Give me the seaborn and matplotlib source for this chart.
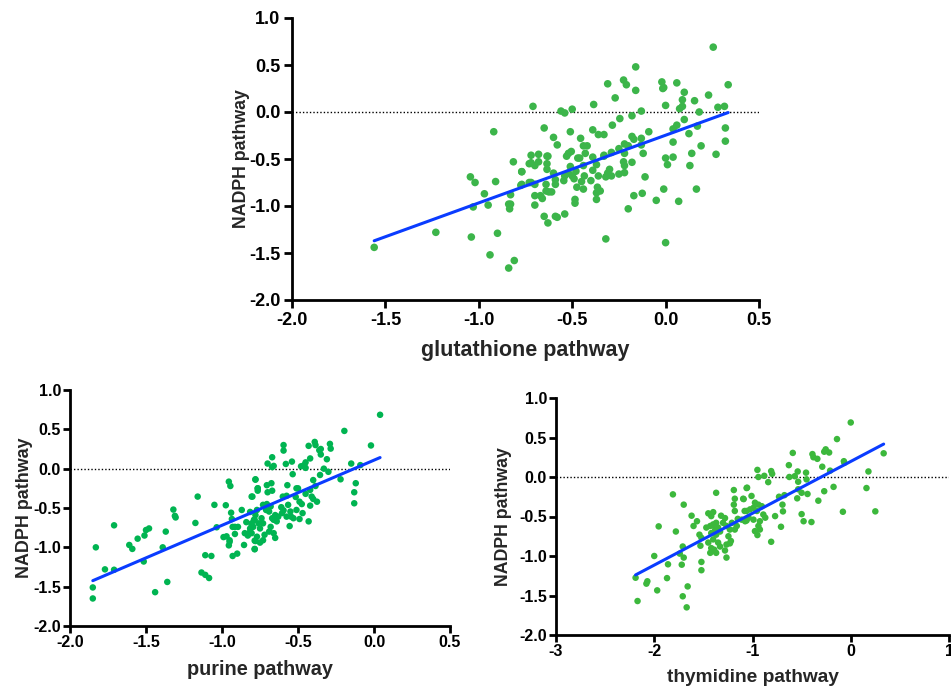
import numpy as np
import pandas as pd
import matplotlib
matplotlib.use("Agg")
import matplotlib.pyplot as plt
import seaborn as sns

# ---------------- data ----------------
# Panel A: glutathione pathway vs NADPH pathway
glut_x = [-0.71, -0.56, -0.54, -0.50, -0.65, -0.60, -0.58, -0.51, -0.455, -0.44, -0.42, -0.385, -0.39, -0.36,
          -0.33, -0.31, -0.27, -0.225, -0.21, -0.16, -0.16, -0.285, -0.245, -0.18, -0.13, -0.09, -0.18, -0.17,
          -0.13, -0.22, -0.20, -0.13, -0.25, -0.29, -0.22, -0.12, -0.02, -0.015, -0.01, 0.06, 0.10, 0.09, 0.09,
          0.075, 0.00, 0.155, 0.23, 0.255, 0.335, 0.28, 0.315, 0.18, 0.10, 0.06, 0.04, 0.17, 0.125, 0.32, 0.32,
          0.04, 0.19, 0.14, 0.27, 0.00, 0.04, -0.43, -0.39, -0.33, -0.72, -0.68, -0.63, -0.53, -0.52, -0.505,
          -0.46,
          -1.56, -1.23, -1.04, -0.94, -0.90, -0.84, -0.81, -1.03, -1.045, -1.02, -0.91, -0.815, -0.77, -0.775,
          -0.83, -0.84, -0.83, -0.835, -0.73, -0.73, -0.92, -0.97, -0.95,
          -0.32, 0.00, -0.20, -0.17, -0.125, -0.05, -0.01, 0.07, 0.165, -0.11, 0.13, 0.01, -0.18, -0.225, -0.22,
          -0.22, -0.25, -0.30, -0.31, -0.29, -0.32, -0.33, -0.37, -0.39, -0.36, -0.40, -0.365, -0.35, -0.37,
          -0.37, -0.44, -0.435, -0.45, -0.44, -0.47, -0.48, -0.475, -0.49, -0.50, -0.485, -0.485, -0.51, -0.52,
          -0.54, -0.545, -0.54, -0.58, -0.59, -0.63, -0.65, -0.59, -0.59, -0.60, -0.61, -0.625, -0.64, -0.64,
          -0.635, -0.635, -0.635, -0.68, -0.70, -0.72, -0.70, -0.70, -0.70, -0.66, -0.67, -0.72, -0.77, -0.77]
glut_y = [0.06, 0.01, -0.01, 0.03, -0.17, -0.27, -0.35, -0.21, -0.28, -0.36, -0.36, 0.08, -0.19, -0.24,
          -0.24, 0.30, 0.15, 0.34, 0.29, 0.48, 0.23, -0.14, -0.07, -0.04, 0.01, -0.21, -0.26, -0.29,
          -0.28, -0.34, -0.36, -0.35, -0.39, -0.43, -0.44, -0.44, 0.32, 0.25, 0.26, 0.31, 0.21, 0.13, 0.06,
          0.035, 0.07, 0.12, 0.18, 0.69, 0.29, 0.05, 0.06, 0.00, -0.08, -0.14, -0.18, -0.15, -0.23, -0.17, -0.31,
          -0.32, -0.36, -0.44, -0.45, -0.49, -0.48, -0.44, -0.48, -0.47, -0.46, -0.45, -0.47, -0.47, -0.44, -0.42,
          -0.49,
          -1.44, -1.28, -1.33, -1.52, -1.29, -1.66, -1.58, -1.01, -0.69, -0.75, -0.74, -0.53, -0.635, -0.78,
          -0.88, -0.98, -0.98, -1.03, -0.55, -0.75, -0.21, -0.87, -0.99,
          -1.35, -1.39, -1.03, -0.89, -0.865, -0.94, -0.82, -0.95, -0.82, -0.69, -0.57, -0.56, -0.535, -0.53, -0.57,
          -0.645, -0.66, -0.61, -0.65, -0.68, -0.69, -0.46, -0.56, -0.62, -0.68, -0.73, -0.80, -0.84, -0.86,
          -0.93, -0.57, -0.68, -0.74, -0.82, -0.49, -0.63, -0.80, -0.71, -0.68, -0.93, -0.97, -0.58, -0.65,
          -0.68, -0.73, -1.085, -1.12, -1.11, -1.18, -1.11, -0.77, -0.72, -0.65, -0.85, -0.85, -0.84, -0.77,
          -0.55, -0.61, -0.47, -0.53, -0.57, -0.54, -0.77, -0.89, -0.99, -0.92, -0.89, -0.75, -0.77, -0.635]

# Panel B: purine pathway vs NADPH pathway
pur_x = [-1.85, -1.85, -1.83, -1.77, -1.71, -1.71, -1.61, -1.59, -1.555, -1.51, -1.50, -1.48, -1.515, -1.44,
         -1.39, -1.37, -1.36, -1.32, -1.31, -1.305, -1.16, -1.175, -1.135, -1.11, -1.085, -1.11, -1.07, -1.05,
         -1.035, -0.975, -0.955, -0.945, -0.94, -0.93, -0.915, -0.935, -0.99, -0.97, -0.95, -0.955, -0.95,
         -0.93, -0.90, -0.915, -0.895, -0.87, -0.855, -0.85, -0.83, -0.815, -0.84, -0.815, -0.805, -0.78,
         -0.765, -0.785, -0.785, -0.77, -0.805, -0.795, -0.785,
         0.04, -0.195, -0.02, -0.595, -0.595, -0.43, -0.39, -0.385, -0.36, -0.35, -0.35, -0.29, -0.285, -0.31,
         -0.42, -0.45, -0.46, -0.48, -0.45, -0.54, -0.58, -0.67, -0.70, -0.67, -0.66, -0.535, -0.33, -0.30,
         -0.355, -0.15, -0.09, -0.22, -0.12, -0.13, -0.13, -0.78, -0.765, -0.765, -0.705, -0.675, -0.67, -0.70,
         -0.80, -0.57, -0.51, -0.50, -0.40, -0.385, -0.42, -0.45, -0.41, -0.40, -0.375, -0.42, -0.60, -0.575,
         -0.515, -0.475, -0.49, -0.61, -0.595, -0.565, -0.55, -0.545, -0.575, -0.605, -0.51, -0.47, -0.49,
         -0.53, -0.43, -0.555, -0.73, -0.705, -0.68, -0.71, -0.69, -0.65, -0.63, -0.66, -0.64, -0.67, -0.77,
         -0.78, -0.79, -0.76, -0.74, -0.73, -0.75, -0.68, -0.69, -0.66, -0.65, -0.72, -0.73, -0.75, -0.78,
         -0.785, -0.805, -0.805, -0.815]
pur_y = [-1.51, -1.65, -1.00, -1.28, -1.285, -0.72, -0.97, -1.02, -0.89, -0.85, -0.78, -0.76, -1.18, -1.57,
         -1.00, -0.80, -1.44, -0.52, -0.60, -0.62, -0.355, -0.69, -1.32, -1.35, -1.39, -1.10, -1.11, -0.46,
         -0.745, -0.465, -0.165, -0.22, -0.56, -0.74, -0.74, -0.64, -0.87, -0.86, -0.91, -0.975, -0.93,
         -1.11, -1.08, -0.83, -0.74, -0.525, -0.97, -0.82, -0.85, -0.80, -0.68, -0.55, -0.355, -0.135,
         -0.25, -0.915, -1.02, -0.865, -0.695, -0.74, -0.65,
         0.685, 0.48, 0.295, 0.30, 0.23, 0.29, 0.34, 0.30, 0.235, 0.25, 0.18, 0.315, 0.255, 0.12,
         0.13, 0.08, 0.045, 0.03, 0.01, 0.09, 0.06, 0.145, 0.065, 0.02, 0.035, -0.07, 0.00, -0.04,
         -0.08, 0.065, 0.045, -0.135, -0.185, -0.30, -0.44, -0.14, -0.25, -0.28, -0.21, -0.185, -0.28, -0.30,
         -0.355, -0.21, -0.25, -0.25, -0.145, -0.22, -0.27, -0.32, -0.355, -0.385, -0.42, -0.47, -0.355, -0.345,
         -0.36, -0.45, -0.42, -0.49, -0.53, -0.46, -0.545, -0.61, -0.61, -0.565, -0.525, -0.565, -0.64,
         -0.63, -0.67, -0.73, -0.46, -0.45, -0.48, -0.525, -0.545, -0.59, -0.61, -0.65, -0.67, -0.63, -0.525,
         -0.59, -0.65, -0.695, -0.63, -0.695, -0.76, -0.74, -0.80, -0.82, -0.88, -0.84, -0.91, -0.94, -0.92,
         -1.025, -0.715, -0.82, -0.76]

# Panel C: thymidine pathway vs NADPH pathway
thy_x = [-2.19, -2.17, -2.07, -2.08, -2.00, -1.97, -1.955, -1.87, -1.86, -1.81, -1.78, -1.74, -1.72, -1.71,
         -1.70, -1.70, -1.71, -1.67, -1.66, -1.62, -1.565, -1.60, -1.54, -1.52, -1.53, -1.52, -1.52, -1.45,
         -1.40, -1.42, -1.37, -1.47, -1.43, -1.40, -1.37, -1.38, -1.35, -1.42, -1.37, -1.33, -1.45, -1.42,
         -1.43, -1.39, -1.37, -1.40, -1.35, -1.33, -1.265, -1.28, -1.32, -1.28, -1.30, -1.265, -1.23, -1.245,
         -1.22, -1.265, -1.23, -1.19, -1.18, -1.19, -1.18, -1.15, -1.16, -1.21, -1.18, -1.09, -1.06, -1.08,
         -1.06,
         0.00, -0.14, 0.335, 0.18, 0.16, 0.25, -0.08, -0.59, -0.39, -0.38, -0.34, -0.27, -0.255, -0.22, -0.07,
         -0.065, -0.29, -0.21, -0.63, -0.54, -0.57, -0.625, -0.455, -0.45, -0.535, -0.95, -0.81, -0.80, -0.94,
         -0.88, -0.84, -0.175, -0.535, -0.50, -0.44, -0.545, -0.27, -0.33, -1.055, -1.01, -1.095, -0.73,
         -0.675, -0.695, -0.69, -0.50, -0.48, -0.40, -0.77, -0.71, -0.81, -0.975, -0.94, -0.905, -0.99,
         -1.025, -1.06, -0.955, -0.89, -0.87, -1.04, -0.99, -0.925, -1.075, -0.94, -0.975, -0.95, -0.925,
         -1.11]
thy_y = [-1.275, -1.57, -1.32, -1.35, -1.00, -1.435, -0.625, -1.28, -1.105, -0.22, -0.69, -0.97, -1.11, -1.51,
         -0.35, -1.02, -0.88, -1.65, -1.385, -0.49, -0.56, -0.62, -0.73, -0.77, -0.87, -1.075, -1.18, -0.46,
         -0.445, -0.495, -0.20, -0.64, -0.62, -0.60, -0.58, -0.665, -0.64, -0.71, -0.73, -0.69, -0.83, -0.90,
         -0.96, -0.92, -0.96, -0.79, -0.83, -0.88, -1.02, -0.93, -0.49, -0.52, -0.58, -0.62, -0.665, -0.75,
         -0.81, -0.855, -0.84, -0.165, -0.275, -0.35, -0.43, -0.53, -0.62, -0.58, -0.665, -0.28, -0.14, -0.43,
         -0.55,
         0.69, 0.48, 0.30, 0.07, -0.14, -0.435, -0.44, 0.305, 0.29, 0.25, 0.23, 0.32, 0.35, 0.31, 0.20,
         0.18, 0.13, 0.08, 0.15, 0.07, 0.01, 0.00, 0.055, -0.03, -0.06, 0.09, 0.075, 0.04, 0.00,
         0.015, -0.065, -0.125, -0.155, -0.20, -0.215, -0.27, -0.18, -0.30, -0.135, -0.24, -0.275, -0.25,
         -0.23, -0.35, -0.435, -0.47, -0.56, -0.57, -0.495, -0.63, -0.82, -0.325, -0.35, -0.37, -0.39,
         -0.41, -0.43, -0.43, -0.475, -0.515, -0.515, -0.54, -0.56, -0.56, -0.62, -0.685, -0.735, -0.665,
         -0.54]

# linear fits: (slope, intercept)
glut_fit = (0.72, -0.247)
pur_fit = (0.828, 0.108)
thy_fit = (0.656, 0.197)

y_ticks = [1.0, 0.5, 0.0, -0.5, -1.0, -1.5, -2.0]
glut_xticks = [-2.0, -1.5, -1.0, -0.5, 0.0, 0.5]
pur_xticks = [-2.0, -1.5, -1.0, -0.5, 0.0, 0.5]
thy_xticks = [-3, -2, -1, 0, 1]

# ---------------- style ----------------
sns.set_theme(style="ticks")
plt.rcParams['font.family'] = ['Liberation Sans', 'DejaVu Sans']
plt.rcParams['font.weight'] = 'bold'

W, H = 951, 688
fig = plt.figure(figsize=(W / 100, H / 100), dpi=100)


def make_ax(l, t, r, b):
    return fig.add_axes([l / W, 1 - b / H, (r - l) / W, (b - t) / H])


def panel(ax, xs, ys, fit, xticks, xlim, xlabel, color, msize, tick_fs, xlab_fs, ylab_fs,
          xpad, ypad, ticklen, tickpad, fmt):
    df = pd.DataFrame({"x": xs, "y": ys})
    ax.axhline(0, color="black", linestyle=(0, (1, 1.5)), linewidth=1.0, zorder=1)
    sns.scatterplot(data=df, x="x", y="y", ax=ax, color=color, s=msize, edgecolor="none",
                    linewidth=0, zorder=3)
    xr = np.array([min(xs), max(xs)])
    line = pd.DataFrame({"x": xr, "y": fit[0] * xr + fit[1]})
    sns.lineplot(data=line, x="x", y="y", ax=ax, color="#0a3cff", linewidth=2.2, zorder=4)
    ax.set_xlim(*xlim)
    ax.set_ylim(-2.0, 1.0)
    ax.set_xticks(xticks)
    ax.set_xticklabels([fmt(v) for v in xticks], fontsize=tick_fs, fontweight="bold")
    ax.set_yticks(y_ticks)
    ax.set_yticklabels([f"{v:.1f}" for v in y_ticks], fontsize=tick_fs, fontweight="bold")
    ax.set_xlabel(xlabel, fontsize=xlab_fs, fontweight="bold", labelpad=xpad)
    ax.set_ylabel("NADPH pathway", fontsize=ylab_fs, fontweight="bold", labelpad=ypad)
    for side in ("top", "right"):
        ax.spines[side].set_visible(False)
    for side in ("left", "bottom"):
        ax.spines[side].set_linewidth(2.0)
        ax.spines[side].set_color("black")
    ax.tick_params(axis="both", direction="out", length=ticklen, width=2.0, pad=tickpad, colors="black")
    ax.patch.set_alpha(0)


ax1 = make_ax(292, 18, 759, 300)
panel(ax1, glut_x, glut_y, glut_fit, glut_xticks, (-2.0, 0.5), "glutathione pathway",
      "#3cb54a", 30, 13, 15.5, 12.8, 8, -1, 6, 2.5, lambda v: f"{v:.1f}")

ax2 = make_ax(70, 390, 450, 626)
panel(ax2, pur_x, pur_y, pur_fit, pur_xticks, (-2.0, 0.5), "purine pathway",
      "#00b451", 22, 11.5, 14.3, 12.9, 7, 0, 5, 1.5, lambda v: f"{v:.1f}")

ax3 = make_ax(556, 398, 949, 635)
panel(ax3, thy_x, thy_y, thy_fit, thy_xticks, (-3, 1), "thymidine pathway",
      "#3cb83c", 22, 11.5, 13.8, 12.8, 7, 5, 5, 1.5, lambda v: f"{int(v)}")

fig.savefig("out.png", dpi=100)
